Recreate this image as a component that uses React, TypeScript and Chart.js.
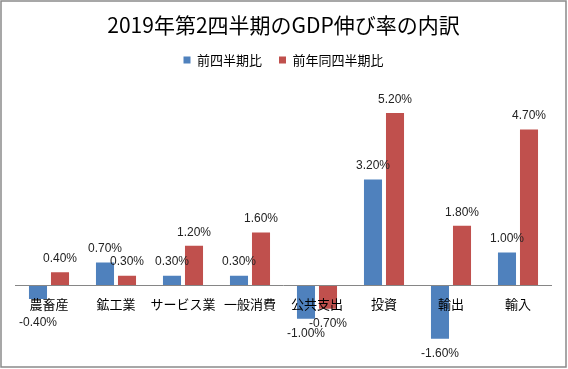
import React, { useEffect, useRef } from "react";
import { Chart, registerables } from "chart.js";

Chart.register(...registerables);

const categories = ["農畜産", "鉱工業", "サービス業", "一般消費", "公共支出", "投資", "輸出", "輸入"];
const qoqValues = [-0.4, 0.7, 0.3, 0.3, -1.0, 3.2, -1.6, 1.0];
const yoyValues = [0.4, 0.3, 1.2, 1.6, -0.7, 5.2, 1.8, 4.7];
const seriesNames = ["前四半期比", "前年同四半期比"];
const titleText = "2019年第2四半期のGDP伸び率の内訳";

const BLUE = "#4F81BD";
const RED = "#C0504D";

const dataLabelPlugin = {
  id: "dataLabels",
  afterDraw(chart: any) {
    const ctx = chart.ctx;
    const zeroY = chart.scales.y.getPixelForValue(0);
    ctx.save();
    ctx.font = "12px 'Liberation Sans', sans-serif";
    ctx.fillStyle = "#222";
    ctx.textAlign = "center";
    ctx.textBaseline = "middle";
    chart.data.datasets.forEach((ds: any, di: number) => {
      const meta = chart.getDatasetMeta(di);
      meta.data.forEach((el: any, i: number) => {
        const v = ds.data[i];
        const label = v.toFixed(2) + "%";
        const y = v >= 0 ? el.y - 13.5 : Math.max(el.y + 15, zeroY + 37);
        ctx.fillText(label, el.x, y);
      });
    });
    ctx.restore();
  },
};

const borderPlugin = {
  id: "outerBorder",
  afterDraw(chart: any) {
    const ctx = chart.ctx;
    ctx.save();
    ctx.strokeStyle = "#8a8a8a";
    ctx.lineWidth = 1.5;
    ctx.strokeRect(1, 1, 565, 366);
    ctx.restore();
  },
};

export default function App() {
  const ref = useRef<HTMLCanvasElement>(null);
  useEffect(() => {
    if (!ref.current) return;
    const chart = new Chart(ref.current, {
      type: "bar",
      data: {
        labels: categories,
        datasets: [
          { label: seriesNames[0], data: qoqValues, backgroundColor: BLUE, categoryPercentage: 0.657, barPercentage: 0.82 },
          { label: seriesNames[1], data: yoyValues, backgroundColor: RED, categoryPercentage: 0.657, barPercentage: 0.82 },
        ],
      },
      options: {
        responsive: false,
        animation: false,
        layout: { padding: { left: 15.5, right: 16.5, top: 0, bottom: 17 } },
        plugins: {
          title: {
            display: true,
            text: titleText,
            color: "#000",
            font: { family: "'Noto Sans CJK JP', sans-serif", size: 21, weight: "normal", lineHeight: 1 },
            padding: { top: 15, bottom: 0.5 },
          },
          legend: {
            display: true,
            labels: {
              color: "#000",
              font: { family: "'Noto Sans CJK JP', sans-serif", size: 13 },
              boxWidth: 7,
              boxHeight: 7,
              padding: 17,
            },
          },
          tooltip: { enabled: false },
        },
        scales: {
          x: {
            position: { y: 0 } as any,
            grid: { display: false, drawTicks: false },
            border: { display: true, color: "#868686", width: 1, z: 1 },
            ticks: {
              z: 1,
              color: "#000",
              padding: 11,
              font: { family: "'Noto Sans CJK JP', sans-serif", size: 13 },
              maxRotation: 0,
              autoSkip: false,
            },
          },
          y: {
            display: false,
            min: -2,
            max: 6.3,
          },
        },
      },
      plugins: [dataLabelPlugin, borderPlugin],
    });
    return () => chart.destroy();
  }, []);
  return (
    <div style={{ position: "absolute", left: 0, top: 0, width: 568, height: 369, background: "#fff" }}>
      <canvas ref={ref} width={568} height={369} />
    </div>
  );
}
